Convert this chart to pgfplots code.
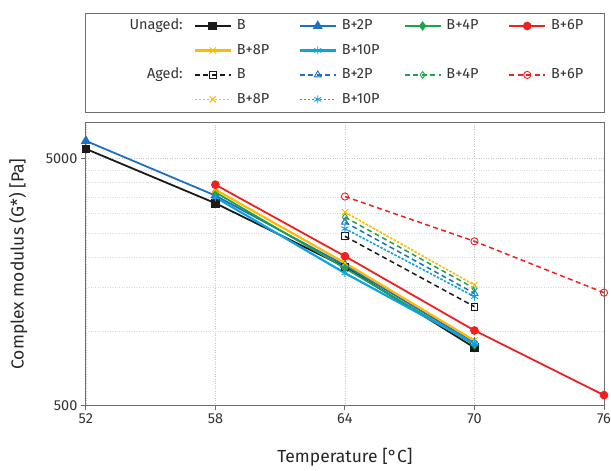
\documentclass[border=0pt]{standalone}
\usepackage{pgfplots}
\pgfplotsset{compat=1.18}
\usepackage{fontspec}
\setmainfont{Fira Sans}

\definecolor{cB}{HTML}{1A1A1A}
\definecolor{c2}{HTML}{1F6FC5}
\definecolor{c4}{HTML}{1BA54A}
\definecolor{c6}{HTML}{F0201E}
\definecolor{c8}{HTML}{FFBA00}
\definecolor{c10}{HTML}{0FA2E3}
\definecolor{axc}{HTML}{6E6E6E}

\newcommand{\lt}[1]{\makebox[55pt][l]{#1}}
\newcommand{\ltl}[1]{\makebox[49pt][l]{#1}}

\pgfplotsset{
 un/.style={line width=1.8pt, solid},
 unl/.style={line width=2.2pt, solid},
 ag/.style={line width=1.5pt, dash pattern=on 5pt off 3.5pt},
 agd/.style={line width=1.6pt, dash pattern=on 2.5pt off 1.5pt},
 unB/.style={cB, mark=square*, mark size=3.4pt, mark options={solid}, un},
 un2/.style={c2, mark=triangle*, mark size=4pt, mark options={solid}, un},
 un4/.style={c4, mark=diamond*, mark size=3.4pt, mark options={solid}, un},
 un6/.style={c6, mark=*, mark size=3.4pt, mark options={solid}, un},
 agB/.style={cB, mark=square, mark size=3.4pt, mark options={solid, fill=white, line width=0.9pt}, ag},
 ag2/.style={c2, mark=triangle, mark size=4pt, mark options={solid, fill=white, line width=0.9pt}, ag},
 ag4/.style={c4, mark=diamond, mark size=3.4pt, mark options={solid, fill=white, line width=0.9pt}, ag},
 ag6/.style={c6, mark=o, mark size=3.6pt, mark options={solid, fill=white, line width=0.9pt}, ag},
 mk8/.style={mark=x, mark size=4.5pt, mark options={solid, line width=0.9pt}},
 mk10/.style={mark=asterisk, mark size=4pt, mark options={solid, line width=0.9pt}},
 lg8/.style={legend image code/.code={\draw (0pt,0pt)--(36pt,0pt);
   \draw plot[only marks, mark=x, mark size=4.5pt, mark options={solid, line width=0.9pt}] coordinates {(18pt,0pt)};}},
 lg10/.style={legend image code/.code={\draw (0pt,0pt)--(36pt,0pt);
   \draw plot[only marks, mark=asterisk, mark size=4pt, mark options={solid, line width=0.9pt}] coordinates {(18pt,0pt)};}},
}

\pgfplotstableread{
T G
58 3750
64 1890
70 915
}\unEight
\pgfplotstableread{
T G
58 3490
64 1719
70 890
}\unTen
\pgfplotstableread{
T G
64 3037
70 1538
}\agEight
\pgfplotstableread{
T G
64 2604
70 1380
}\agTen

\begin{document}
\begin{tikzpicture}
\begin{axis}[
 scale only axis, width=519pt, height=283pt,
 xmin=52, xmax=76, ymode=log, ymin=500, ymax=7000,
 xtick={52,58,64,70,76},
 ytick={500,5000}, yticklabels={500,5000},
 minor ytick={1000,1500,2000,2500,3000,3500,4000,4500},
 xmajorgrids=true, ymajorgrids=true, yminorgrids=true,
 major grid style={gray!45, dotted, line width=0.7pt},
 minor grid style={gray!30, dotted, line width=0.6pt},
 axis line style={axc, line width=0.9pt},
 tick style={axc, line width=0.9pt},
 major tick length=5pt, minor tick length=0pt,
 tick align=outside, xtick pos=left, ytick pos=left,
 /pgf/number format/assume math mode=true,
 tick label style={font=\fontsize{14.5}{17}\selectfont, text=black!80},
 xlabel={Temperature [°C]},
 ylabel={Complex modulus (G*) [Pa]},
 every axis x label/.style={at={(axis description cs:0.5,-0.184)}, anchor=center,
   font=\fontsize{17.5}{20}\selectfont, text=black!85},
 every axis y label/.style={at={(axis description cs:-0.131,0.5)}, anchor=center, rotate=90,
   font=\fontsize{17.5}{20}\selectfont, text=black!85},
 legend image code/.code={\draw[mark repeat=2,mark phase=2] plot coordinates {(0pt,0pt)(18pt,0pt)(36pt,0pt)};},
 legend columns=5,
 legend cell align=left,
 legend style={at={(0.5,1)}, anchor=south, yshift=10pt,
   draw=axc, line width=0.9pt,
   font=\fontsize{14.5}{17}\selectfont, text=black!80,
   inner xsep=4pt, inner ysep=6pt, row sep=10.5pt,
   nodes={inner xsep=0pt, inner ysep=0pt, text height=11pt, text depth=3pt},
   /tikz/every odd column/.append style={column sep=5pt},
   /tikz/every even column/.append style={column sep=7pt}},
]
% unaged
\addplot[unB, forget plot] coordinates {(52,5486)(58,3302)(64,1822)(70,857)};
\addplot[un2, forget plot] coordinates {(52,5912)(58,3547)(64,1850)(70,897)};
\addplot[un4, forget plot] coordinates {(58,3657)(64,1800)(70,880)};
\addplot[c8, unl, no marks, forget plot] table[x=T, y=G] {\unEight};
\addplot[c8, only marks, mk8, forget plot] table[x=T, y=G] {\unEight};
\addplot[c10, unl, no marks, forget plot] table[x=T, y=G] {\unTen};
\addplot[c10, only marks, mk10, forget plot] table[x=T, y=G] {\unTen};
\addplot[un6, forget plot] coordinates {(58,3928)(64,2013)(70,1006)(76,550)};
% aged
\addplot[agB, forget plot] coordinates {(64,2424)(70,1257)};
\addplot[ag2, forget plot] coordinates {(64,2767)(70,1423)};
\addplot[ag4, forget plot] coordinates {(64,2900)(70,1491)};
\addplot[c8, agd, no marks, forget plot] table[x=T, y=G] {\agEight};
\addplot[c8, only marks, mk8, forget plot] table[x=T, y=G] {\agEight};
\addplot[c10, agd, no marks, forget plot] table[x=T, y=G] {\agTen};
\addplot[c10, only marks, mk10, forget plot] table[x=T, y=G] {\agTen};
\addplot[ag6, forget plot] coordinates {(64,3515)(70,2314)(76,1432)};
% legend
\addlegendimage{empty legend}\addlegendentry{\makebox[92pt][r]{Unaged:\hspace{4pt}}}
\addlegendimage{unB}\addlegendentry{\lt{B}}
\addlegendimage{un2}\addlegendentry{\lt{B+2P}}
\addlegendimage{un4}\addlegendentry{\lt{B+4P}}
\addlegendimage{un6}\addlegendentry{\ltl{B+6P}}
\addlegendimage{empty legend}\addlegendentry{\mbox{}}
\addlegendimage{c8, unl, lg8}\addlegendentry{\lt{B+8P}}
\addlegendimage{c10, unl, lg10}\addlegendentry{\lt{B+10P}}
\addlegendimage{empty legend}\addlegendentry{\mbox{}}
\addlegendimage{empty legend}\addlegendentry{\mbox{}}
\addlegendimage{empty legend}\addlegendentry{\makebox[92pt][r]{Aged:\hspace{4pt}}}
\addlegendimage{agB}\addlegendentry{\lt{B}}
\addlegendimage{ag2}\addlegendentry{\lt{B+2P}}
\addlegendimage{ag4}\addlegendentry{\lt{B+4P}}
\addlegendimage{ag6}\addlegendentry{\ltl{B+6P}}
\addlegendimage{empty legend}\addlegendentry{\mbox{}}
\addlegendimage{c8, agd, lg8}\addlegendentry{\lt{B+8P}}
\addlegendimage{c10, agd, lg10}\addlegendentry{\lt{B+10P}}
\addlegendimage{empty legend}\addlegendentry{\mbox{}}
\addlegendimage{empty legend}\addlegendentry{\mbox{}}
\end{axis}
\pgfresetboundingbox
\path[use as bounding box] (-86pt,-65pt) rectangle (526pt,406pt);
\end{tikzpicture}
\end{document}
